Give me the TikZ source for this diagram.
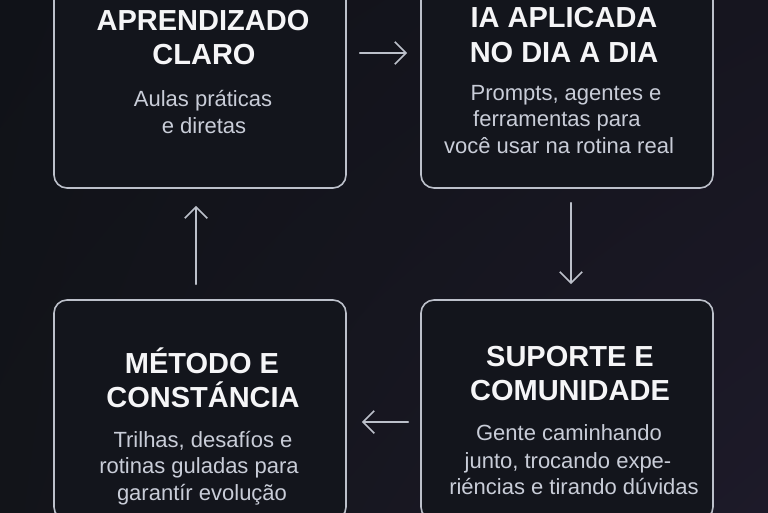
\documentclass[tikz,border=0pt]{standalone}
\usepackage{fontspec}
\setmainfont{Liberation Sans}
\usetikzlibrary{arrows.meta,calc,shadings}
\definecolor{bgTL}{HTML}{101218}
\definecolor{bgTR}{HTML}{16151F}
\definecolor{bgBL}{HTML}{121419}
\definecolor{bgBR}{HTML}{1D1A29}
\definecolor{boxfill}{HTML}{13151C}
\definecolor{edgecol}{HTML}{BCC0CA}
\definecolor{titlecol}{HTML}{F5F5F7}
\definecolor{subcol}{HTML}{C9CDD8}
\begin{document}
\begin{tikzpicture}[x=1pt,y=-1pt,
  cardbox/.style={draw=edgecol, line width=1.6pt, fill=boxfill, rounded corners=13pt,
    minimum width=292pt, inner sep=0pt},
  toptext/.style={font=\bfseries\fontsize{29}{34}\selectfont, text=titlecol, anchor=base, inner sep=0pt},
  subtext/.style={font=\fontsize{22}{27}\selectfont, text=subcol, anchor=base, inner sep=0pt},
  flowarrow/.style={draw=edgecol, line width=1.6pt, line cap=round,
    -{Straight Barb[scale=2.4]}}]
\useasboundingbox (0,0) rectangle (768,512);
\clip (0,0) rectangle (768,512);
\shade[upper left=bgTL, upper right=bgTR, lower left=bgBL, lower right=bgBR] (0,0) rectangle (768,512);

% boxes
\node[cardbox, minimum height=208pt] (b1) at (200,84) {};
\node[cardbox, minimum height=208pt] (b2) at (567,84) {};
\node[cardbox, minimum height=220pt] (b3) at (200,410) {};
\node[cardbox, minimum height=220pt] (b4) at (567,410) {};

% box 1
\node[toptext] (t1a) at (203,30) {APRENDIZADO};
\node[toptext] (t1b) at (204,64) {CLARO};
\node[subtext] (s1a) at (203,106) {Aulas práticas};
\node[subtext] (s1b) at (204,133) {e diretas};

% box 2
\node[toptext] (t2a) at (564,27) {IA APLICADA};
\node[toptext] (t2b) at (564,62) {NO DIA A DIA};
\node[subtext] (s2a) at (566,100) {Prompts, agentes e};
\node[subtext] (s2b) at (557,126) {ferramentas para};
\node[subtext] (s2c) at (559,153) {você usar na rotina real};

% box 3
\node[toptext] (t3a) at (202,373) {MÉTODO E};
\node[toptext] (t3b) at (203,407) {CONSTÁNCIA};
\node[subtext] (s3a) at (203,447) {Trilhas, desafíos e};
\node[subtext] (s3b) at (199,473) {rotinas guladas para};
\node[subtext] (s3c) at (202,500) {garantír evolução};

% box 4
\node[toptext] (t4a) at (570,366) {SUPORTE E};
\node[toptext] (t4b) at (570,400) {COMUNIDADE};
\node[subtext] (s4a) at (569,440) {Gente caminhando};
\node[subtext] (s4b) at (568,468) {junto, trocando expe-};
\node[subtext] (s4c) at (574,494) {riéncias e tirando dúvidas};

% arrows
\draw[flowarrow] ($(b1.east)+(13,-31)$) -- ($(b2.west)+(-13,-31)$);
\draw[flowarrow] ($(b2.south)+(4,14)$) -- ($(b4.north)+(4,-15)$);
\draw[flowarrow] ($(b4.west)+(-12,12)$) -- ($(b3.east)+(15,12)$);
\draw[flowarrow] ($(b3.north)+(-4,-15)$) -- ($(b1.south)+(-4,17)$);
\end{tikzpicture}
\end{document}
